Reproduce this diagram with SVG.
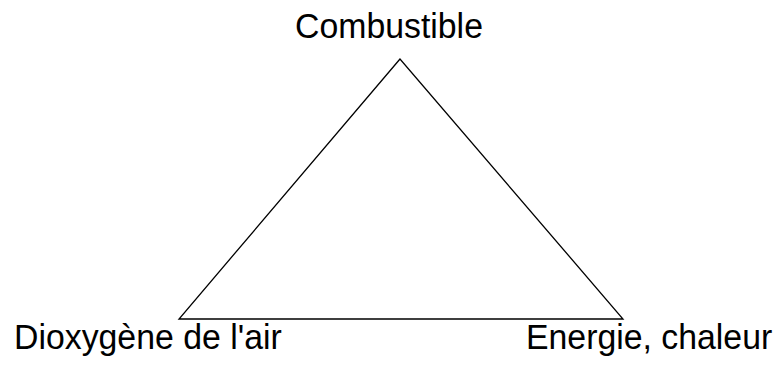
<svg xmlns="http://www.w3.org/2000/svg" width="776" height="369" viewBox="0 0 776 369">
<style>
text{font-family:"Liberation Sans",Arial,sans-serif;font-size:35.5px;fill:#000}
.edge{fill:none;stroke:#000;stroke-width:1.3}
</style>
<rect width="776" height="369" fill="#fff"/>
<g id="connectors">
<polygon class="edge" points="400,59 179,319 623,319"/>
</g>
<g id="combustible"><text transform="translate(295,37.5) scale(0.953,1)">Combustible</text></g>
<g id="dioxygene"><text transform="translate(14,349) scale(0.953,1)">Dioxygène de l'air</text></g>
<g id="energie"><text transform="translate(526,349) scale(0.953,1)">Energie, chaleur</text></g>
</svg>
